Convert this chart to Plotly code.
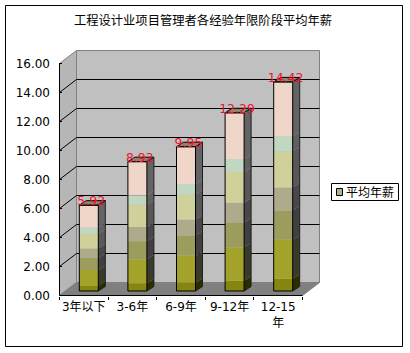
import plotly.graph_objects as go

categories = ["3年以下", "3-6年", "6-9年", "9-12年", "12-15<br>年"]
values = [5.92, 8.92, 9.95, 12.29, 14.42]
value_labels = ["5.92", "8.92", "9.95", "12.29", "14.42"]
series_name = "平均年薪"
y_ticks = [0, 2, 4, 6, 8, 10, 12, 14, 16]

# gradient rendered as colour bands (share of bar height, front colour, side colour)
band_stops = [0, 0.058, 0.245, 0.385, 0.495, 0.668, 0.74, 1]
band_front = ["#85850f", "#a3a32c", "#9c9c5c", "#aeaa8c", "#d0d09a", "#c0d8c2", "#f0d6c8"]
band_side = ["#2c2c00", "#3a3a2c", "#404040", "#484848", "#585858", "#606060", "#646464"]

W, H = 410, 353
L, R, T, B = 59, 321, 50, 296
PX_X = 48.6             # pixels per category
PX_Y = 14.5             # pixels per value unit
DX, DY = 17 / PX_X, 13 / PX_Y            # depth of the box
BX0, BY0 = 5 / PX_X, 4.5 / PX_Y          # bar front offset
SX, SY = 7 / PX_X, 4.5 / PX_Y            # bar depth
BW = 19 / PX_X

x_lo = -0.5 - 0.5 / PX_X
x_hi = x_lo + (R - L) / PX_X
y_lo = -0.5 / PX_Y
y_hi = y_lo + (B - T) / PX_Y
X0, X1 = -0.5, 4.5


def paper_x(px):
    return (px - L) / (R - L)


def paper_y(px):
    return (B - px) / (B - T)


fig = go.Figure()
shapes = []


def poly(pts, fill, line=None, width=1):
    path = "M " + " L ".join(f"{a},{b}" for a, b in pts) + " Z"
    shapes.append(dict(type="path", path=path, fillcolor=fill, layer="below",
                       line=dict(color=line or fill, width=width), xref="x", yref="y"))


def seg(a, b, color="#000000", width=1):
    shapes.append(dict(type="line", x0=a[0], y0=a[1], x1=b[0], y1=b[1], xref="x", yref="y",
                       layer="below", line=dict(color=color, width=width)))


# walls, floor, grid
poly([(X0, 0), (X0 + DX, DY), (X0 + DX, 16 + DY), (X0, 16)], "#b6b6b6", "#808080")
poly([(X0 + DX, DY), (X1 + DX, DY), (X1 + DX, 16 + DY), (X0 + DX, 16 + DY)], "#c0c0c0", "#808080")
poly([(X0, 0), (X1, 0), (X1 + DX, DY), (X0 + DX, DY)], "#808080")
for t in y_ticks[1:-1]:
    seg((X0, t), (X0 + DX, t + DY))
    seg((X0 + DX, t + DY), (X1 + DX, t + DY))
seg((X0, 0), (X0, 16))
seg((X0, 0), (X1, 0))

# bars
xs = [i + BX0 for i in range(len(values))]
for b in range(len(band_front)):
    fig.add_trace(go.Bar(
        x=xs,
        y=[v * (band_stops[b + 1] - band_stops[b]) for v in values],
        base=[BY0 + v * band_stops[b] for v in values],
        width=BW, marker=dict(color=band_front[b], line=dict(width=0)),
        name=series_name, showlegend=False, hoverinfo="skip"))

for x, v in zip(xs, values):
    xr = x + BW / 2
    xl = x - BW / 2
    for b in range(len(band_side)):
        y0 = BY0 + v * band_stops[b]
        y1 = BY0 + v * band_stops[b + 1]
        fig.add_trace(go.Scatter(
            x=[xr, xr + SX, xr + SX, xr, xr], y=[y0, y0 + SY, y1 + SY, y1, y0],
            mode="lines", fill="toself", fillcolor=band_side[b], line=dict(width=0),
            showlegend=False, hoverinfo="skip"))
    top = BY0 + v
    fig.add_trace(go.Scatter(
        x=[xl, xr, xr + SX, xl + SX, xl], y=[top, top, top + SY, top + SY, top],
        mode="lines", fill="toself", fillcolor="#8f8468", line=dict(color="#000000", width=1),
        showlegend=False, hoverinfo="skip"))
    fig.add_trace(go.Scatter(
        x=[xl, xr, xr, xl, xl], y=[BY0, BY0, top, top, BY0],
        mode="lines", line=dict(color="#000000", width=1),
        showlegend=False, hoverinfo="skip"))
    fig.add_trace(go.Scatter(
        x=[xr, xr + SX, xr + SX, xr], y=[BY0, BY0 + SY, top + SY, top],
        mode="lines", line=dict(color="#202020", width=1),
        showlegend=False, hoverinfo="skip"))

# value labels
fig.add_trace(go.Scatter(
    x=[x + 0.05 for x in xs], y=[BY0 + v + 0.2 for v in values],
    mode="text", text=value_labels, textposition="middle center",
    textfont=dict(color="#f01030", size=12.5, family="DejaVu Sans"),
    showlegend=False, hoverinfo="skip"))

annotations = [dict(
    xref="paper", yref="paper", x=paper_x(370), y=paper_y(191.5), xanchor="center", yanchor="middle",
    text=series_name, showarrow=False, font=dict(size=12, color="#000000"))]

fig.update_layout(
    width=W, height=H, autosize=False,
    paper_bgcolor="#ffffff", plot_bgcolor="rgba(0,0,0,0)",
    margin=dict(l=L, r=W - R, t=T, b=H - B, pad=0),
    barmode="overlay", shapes=shapes, annotations=annotations,
    font=dict(family="Noto Sans CJK SC, DejaVu Sans", size=12, color="#000000"),
    title=dict(text="工程设计业项目管理者各经验年限阶段平均年薪", x=203 / W, xanchor="center",
               y=1 - 21 / H, yanchor="middle", font=dict(size=12.3, color="#000000")),
    xaxis=dict(range=[x_lo, x_hi], tickmode="array", tickvals=list(range(5)), ticktext=categories,
               automargin=False,
               ticks="", showgrid=False, zeroline=False, showline=False, ticklabelstandoff=2,
               tickangle=0, tickfont=dict(size=12, family="DejaVu Sans, Noto Sans CJK SC"),
               minor=dict(tickvals=[i - 0.5 for i in range(6)], ticks="outside", ticklen=3,
                          tickcolor="#000000", tickwidth=1, showgrid=False)),
    yaxis=dict(range=[y_lo, y_hi], tickmode="array", tickvals=y_ticks, tickformat=".2f",
               automargin=False,
               ticks="inside", ticklen=3, tickcolor="#000000", showgrid=False, zeroline=False,
               showline=False, ticklabelstandoff=8, tickfont=dict(size=12, family="DejaVu Sans")),
    showlegend=False,
)
# chart frame, legend box and swatch
fig.add_shape(type="rect", xref="paper", yref="paper", layer="above",
              x0=paper_x(5.5), x1=paper_x(402.5), y0=paper_y(346.5), y1=paper_y(5.5),
              line=dict(color="#000000", width=1), fillcolor="rgba(0,0,0,0)")
fig.add_shape(type="rect", xref="paper", yref="paper", layer="above",
              x0=paper_x(331.5), x1=paper_x(398.5), y0=paper_y(200.5), y1=paper_y(183.5),
              line=dict(color="#000000", width=1), fillcolor="#ffffff")
fig.add_shape(type="rect", xref="paper", yref="paper", layer="above",
              x0=paper_x(336.5), x1=paper_x(342.5), y0=paper_y(195.5), y1=paper_y(188.5),
              line=dict(color="#000000", width=1), fillcolor="#b4b08c")
fig.write_html("out.html", config={"displayModeBar": False},
               post_script="document.body.style.margin='0';document.body.style.overflow='hidden';")
